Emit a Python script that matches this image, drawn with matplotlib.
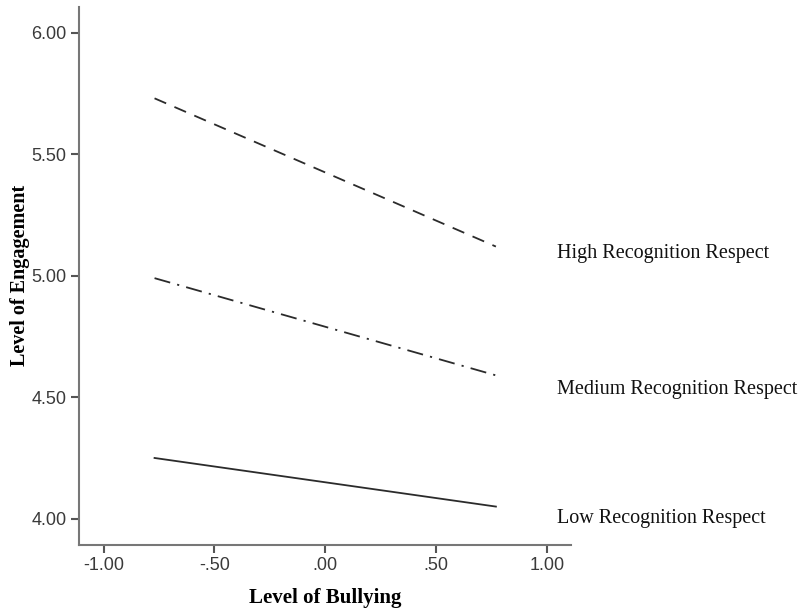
import matplotlib
matplotlib.use("Agg")
import matplotlib.pyplot as plt

# simple slopes: level of bullying (-1 SD, +1 SD)
bullying = [-0.77, 0.77]
high_resp = [5.73, 5.12]
medium_resp = [4.99, 4.59]
low_resp = [4.25, 4.05]

group_names = ["High Recognition Respect", "Medium Recognition Respect", "Low Recognition Respect"]
label_y = [5.09, 4.53, 4.00]

xticks = [-1.0, -0.5, 0.0, 0.5, 1.0]
xticklabels = ["-1.00", "-.50", ".00", ".50", "1.00"]
yticks = [4.0, 4.5, 5.0, 5.5, 6.0]
yticklabels = ["4.00", "4.50", "5.00", "5.50", "6.00"]

fig = plt.figure(figsize=(8.08, 6.10), dpi=100)
ax = fig.add_axes([0.098, 0.107, 0.609, 0.882])

lc = "#2b2b2b"
ax.plot(bullying, high_resp, color=lc, lw=1.3, dashes=(7, 5))
ax.plot(bullying, medium_resp, color=lc, lw=1.3, dashes=(9, 4, 1.2, 4))
ax.plot(bullying, low_resp, color=lc, lw=1.3)

ax.set_xlim(-1.11, 1.11)
ax.set_ylim(3.893, 6.107)

for name, yy in zip(group_names, label_y):
    ax.text(1.045, yy, name, fontsize=14.5, family="Liberation Serif",
            va="center", ha="left", clip_on=False, color="#111111")

ax.set_xticks(xticks)
ax.set_xticklabels(xticklabels)
ax.set_yticks(yticks)
ax.set_yticklabels(yticklabels)

for s in ["top", "right"]:
    ax.spines[s].set_visible(False)
for s in ["left", "bottom"]:
    ax.spines[s].set_color("#777777")
    ax.spines[s].set_linewidth(1.5)

ax.tick_params(direction="out", length=6, width=1.5, color="#555555",
               labelsize=13, labelcolor="#3a3a3a", pad=3)
for lab in ax.get_xticklabels() + ax.get_yticklabels():
    lab.set_family("Liberation Sans")

ax.set_xlabel("Level of Bullying", fontsize=15, fontweight="bold",
              family="Liberation Serif", labelpad=10)
ax.set_ylabel("Level of Engagement", fontsize=14.5, fontweight="bold",
              family="Liberation Serif")
ax.yaxis.set_label_coords(-0.1, 0.5)

plt.savefig("out.png", dpi=100)
